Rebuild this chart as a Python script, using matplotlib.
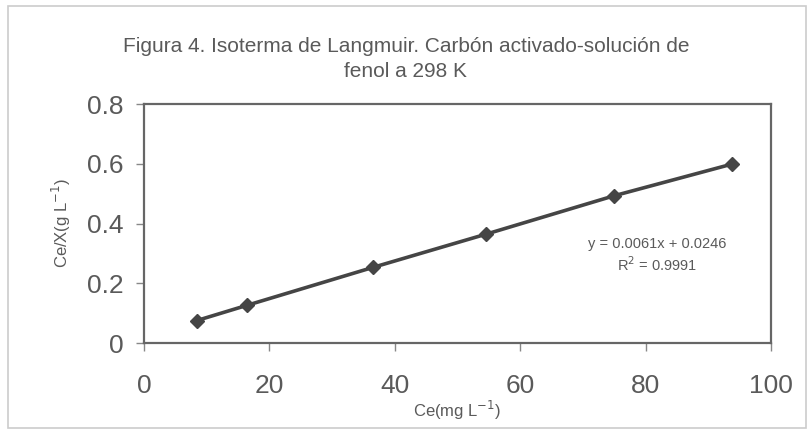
import matplotlib.pyplot as plt
from matplotlib.patches import Rectangle

ce = [8.4, 16.4, 36.5, 54.5, 75.0, 93.8]
ce_x = [0.075, 0.126, 0.253, 0.364, 0.493, 0.599]
x_ticks = [0, 20, 40, 60, 80, 100]
y_ticks = [0, 0.2, 0.4, 0.6, 0.8]
y_tick_labels = ['0', '0.2', '0.4', '0.6', '0.8']

plt.rcParams['font.family'] = ['Liberation Sans', 'DejaVu Sans']
grey = '#5a5a5a'

fig = plt.figure(figsize=(8.12, 4.3), dpi=100)
fig.patches.append(Rectangle((0.01, 0.005), 0.982, 0.982, transform=fig.transFigure,
                             fill=False, edgecolor='#cccccc', lw=1.2))
ax = fig.add_axes([0.1773, 0.2023, 0.7722, 0.5558])

ax.plot(ce, ce_x, color='#454545', lw=2.6, marker='D', ms=7, mfc='#454545', mec='#454545')

ax.set_xlim(0, 100)
ax.set_ylim(0, 0.8)
ax.set_xticks(x_ticks)
ax.set_yticks(y_ticks)
ax.set_yticklabels(y_tick_labels)
ax.tick_params(direction='out', length=6, width=1, color='#888888', labelcolor=grey,
               labelsize=19)
ax.tick_params(axis='x', pad=16)
ax.tick_params(axis='y', pad=9)
for s in ax.spines.values():
    s.set_color('#666666')
    s.set_linewidth(1.6)

ax.set_xlabel('Ce(mg L$^{-1}$)', fontsize=12, color=grey, labelpad=1)
ax.set_ylabel('Ce/X(g L$^{-1}$)', fontsize=12, color=grey, labelpad=10)

ax.text(0.818, 0.445, 'y = 0.0061x + 0.0246\nR$^2$ = 0.9991', transform=ax.transAxes,
        ha='center', va='top', fontsize=10.5, color=grey, linespacing=1.3)

fig.text(0.5, 0.862, 'Figura 4. Isoterma de Langmuir. Carbón activado-solución de\nfenol a 298 K',
         ha='center', va='center', fontsize=15, color=grey, linespacing=1.42)

fig.savefig('out.png', dpi=100)
